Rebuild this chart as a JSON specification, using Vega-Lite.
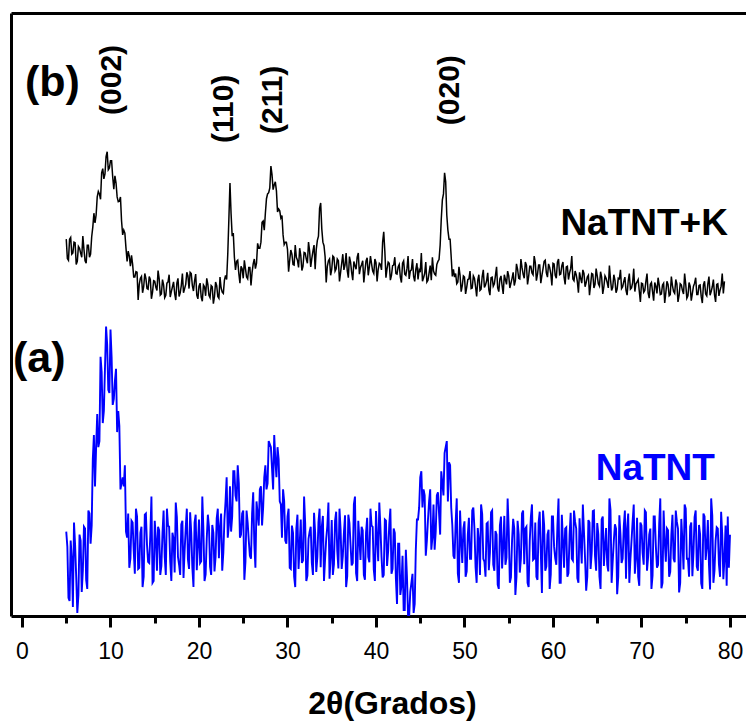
{
"$schema": "https://vega.github.io/schema/vega-lite/v6.json",
"width": 735, "height": 603,
"autosize": "none",
"padding": {"left": 11, "top": 13, "right": 0, "bottom": 107},
"background": "white",
"config": {"view": {"stroke": null}},
"datasets": {
"xrd": [
{"x":5,"a":14.0,"b":62.5},{"x":5.25,"a":3.0,"b":59.0},{"x":5.5,"a":12.5,"b":62.8},{"x":5.75,"a":1.5,"b":60.2},{"x":6,"a":11.8,"b":61.9},{"x":6.25,"a":0.5,"b":58.8},{"x":6.5,"a":13.5,"b":61.0},{"x":6.75,"a":4.0,"b":59.5},{"x":7,"a":14.8,"b":60.8},{"x":7.25,"a":6.0,"b":58.5},{"x":7.5,"a":17.5,"b":61.5},{"x":7.75,"a":12.0,"b":60.0},
{"x":8,"a":26.0,"b":64.5},{"x":8.25,"a":21.5,"b":65.2},{"x":8.5,"a":33.5,"b":69.5},{"x":8.75,"a":29.0,"b":70.0},{"x":9,"a":40.5,"b":73.5},{"x":9.25,"a":34.0,"b":72.5},{"x":9.5,"a":48.0,"b":76.2},{"x":9.75,"a":37.5,"b":74.0},{"x":10,"a":47.5,"b":75.5},{"x":10.25,"a":35.0,"b":72.8},{"x":10.5,"a":39.0,"b":73.0},{"x":10.75,"a":30.5,"b":69.5},
{"x":11,"a":31.5,"b":68.8},{"x":11.25,"a":22.0,"b":65.5},{"x":11.5,"a":21.5,"b":64.0},{"x":11.75,"a":14.0,"b":61.0},{"x":12,"a":17.0,"b":60.5},{"x":12.25,"a":9.5,"b":58.0},{"x":12.5,"a":15.5,"b":58.3},{"x":12.75,"a":7.0,"b":56.2},{"x":13,"a":16.5,"b":57.0},{"x":13.25,"a":8.0,"b":55.0},{"x":13.5,"a":14.8,"b":56.3},{"x":13.75,"a":6.5,"b":54.6},
{"x":14,"a":17.0,"b":56.0},{"x":14.25,"a":9.0,"b":54.2},{"x":14.5,"a":13.5,"b":55.8},{"x":14.75,"a":5.5,"b":53.7},{"x":15,"a":15.8,"b":55.5},{"x":15.25,"a":7.5,"b":54.0},{"x":15.5,"a":14.2,"b":55.9},{"x":15.75,"a":8.3,"b":53.4},{"x":16,"a":17.5,"b":54.9},{"x":16.25,"a":6.8,"b":53.2},{"x":16.5,"a":15.0,"b":55.4},{"x":16.75,"a":9.0,"b":52.9},
{"x":17,"a":13.8,"b":54.6},{"x":17.25,"a":7.2,"b":53.5},{"x":17.5,"a":16.4,"b":55.2},{"x":17.75,"a":8.5,"b":53.0},{"x":18,"a":15.2,"b":54.8},{"x":18.25,"a":6.3,"b":53.6},{"x":18.5,"a":14.6,"b":55.0},{"x":18.75,"a":9.4,"b":56.4},{"x":19,"a":17.2,"b":57.0},{"x":19.25,"a":8.0,"b":54.8},{"x":19.5,"a":15.5,"b":55.6},{"x":19.75,"a":7.6,"b":53.2},
{"x":20,"a":16.0,"b":54.7},{"x":20.25,"a":9.1,"b":52.9},{"x":20.5,"a":14.3,"b":54.9},{"x":20.75,"a":6.9,"b":53.1},{"x":21,"a":16.8,"b":55.0},{"x":21.25,"a":8.2,"b":52.8},{"x":21.5,"a":15.1,"b":54.6},{"x":21.75,"a":7.4,"b":53.0},{"x":22,"a":16.2,"b":54.8},{"x":22.25,"a":9.6,"b":52.7},{"x":22.5,"a":17.0,"b":54.4},{"x":22.75,"a":10.5,"b":53.5},
{"x":23,"a":19.0,"b":56.5},{"x":23.25,"a":13.0,"b":60.0},{"x":23.5,"a":21.5,"b":71.8},{"x":23.75,"a":16.5,"b":63.0},{"x":24,"a":24.0,"b":59.5},{"x":24.25,"a":19.0,"b":58.8},{"x":24.5,"a":22.0,"b":56.8},{"x":24.75,"a":13.5,"b":58.0},{"x":25,"a":17.5,"b":56.0},{"x":25.25,"a":9.0,"b":57.6},{"x":25.5,"a":15.5,"b":55.9},{"x":25.75,"a":10.0,"b":57.8},
{"x":26,"a":17.0,"b":57.0},{"x":26.25,"a":12.0,"b":59.2},{"x":26.5,"a":19.0,"b":58.5},{"x":26.75,"a":15.0,"b":61.0},{"x":27,"a":21.5,"b":62.0},{"x":27.25,"a":18.0,"b":65.5},{"x":27.5,"a":25.0,"b":66.8},{"x":27.75,"a":22.0,"b":70.0},{"x":28,"a":28.5,"b":71.0},{"x":28.25,"a":24.5,"b":73.2},{"x":28.5,"a":30.0,"b":71.5},{"x":28.75,"a":23.0,"b":70.5},
{"x":29,"a":26.0,"b":67.5},{"x":29.25,"a":18.5,"b":66.0},{"x":29.5,"a":21.0,"b":63.2},{"x":29.75,"a":12.5,"b":62.0},{"x":30,"a":16.5,"b":60.8},{"x":30.25,"a":8.0,"b":59.0},{"x":30.5,"a":15.0,"b":60.0},{"x":30.75,"a":6.5,"b":58.2},{"x":31,"a":14.5,"b":59.5},{"x":31.25,"a":7.8,"b":57.8},{"x":31.5,"a":16.0,"b":59.8},{"x":31.75,"a":9.2,"b":58.0},
{"x":32,"a":15.3,"b":60.2},{"x":32.25,"a":6.7,"b":58.5},{"x":32.5,"a":14.0,"b":60.5},{"x":32.75,"a":8.8,"b":59.3},{"x":33,"a":17.1,"b":61.5},{"x":33.25,"a":7.3,"b":60.8},{"x":33.5,"a":15.6,"b":63.0},{"x":33.75,"a":8.1,"b":68.5},{"x":34,"a":16.6,"b":62.0},{"x":34.25,"a":9.5,"b":59.6},{"x":34.5,"a":14.9,"b":58.0},{"x":34.75,"a":6.2,"b":59.2},
{"x":35,"a":15.9,"b":57.5},{"x":35.25,"a":8.6,"b":59.5},{"x":35.5,"a":17.3,"b":57.6},{"x":35.75,"a":7.9,"b":58.9},{"x":36,"a":14.4,"b":57.0},{"x":36.25,"a":9.9,"b":60.0},{"x":36.5,"a":16.7,"b":58.2},{"x":36.75,"a":6.6,"b":57.3},{"x":37,"a":15.4,"b":59.6},{"x":37.25,"a":8.4,"b":57.0},{"x":37.5,"a":18.5,"b":58.8},{"x":37.75,"a":7.1,"b":57.5},
{"x":38,"a":15.8,"b":60.2},{"x":38.25,"a":9.3,"b":57.8},{"x":38.5,"a":14.2,"b":58.9},{"x":38.75,"a":6.0,"b":57.2},{"x":39,"a":16.3,"b":59.4},{"x":39.25,"a":8.9,"b":57.9},{"x":39.5,"a":15.0,"b":58.4},{"x":39.75,"a":7.7,"b":56.8},{"x":40,"a":17.4,"b":58.6},{"x":40.25,"a":9.1,"b":57.5},{"x":40.5,"a":14.7,"b":58.3},{"x":40.75,"a":6.4,"b":62.0},
{"x":41,"a":16.0,"b":60.5},{"x":41.25,"a":8.3,"b":57.6},{"x":41.5,"a":15.2,"b":58.5},{"x":41.75,"a":7.0,"b":56.5},{"x":42,"a":14.5,"b":58.2},{"x":42.25,"a":6.1,"b":56.8},{"x":42.5,"a":12.0,"b":57.9},{"x":42.75,"a":3.5,"b":56.2},{"x":43,"a":10.0,"b":58.5},{"x":43.25,"a":1.0,"b":56.7},{"x":43.5,"a":6.5,"b":57.6},{"x":43.75,"a":0.0,"b":55.9},
{"x":44,"a":5.5,"b":57.4},{"x":44.25,"a":0.5,"b":56.3},{"x":44.5,"a":11.0,"b":57.5},{"x":44.75,"a":16.0,"b":55.8},{"x":45,"a":23.0,"b":57.0},{"x":45.25,"a":18.0,"b":55.5},{"x":45.5,"a":20.0,"b":56.8},{"x":45.75,"a":12.5,"b":55.4},{"x":46,"a":19.0,"b":56.9},{"x":46.25,"a":11.0,"b":55.7},{"x":46.5,"a":18.5,"b":57.2},{"x":46.75,"a":14.0,"b":56.5},
{"x":47,"a":20.5,"b":58.8},{"x":47.25,"a":13.5,"b":61.5},{"x":47.5,"a":22.0,"b":69.0},{"x":47.75,"a":27.0,"b":73.5},{"x":48,"a":29.0,"b":66.5},{"x":48.25,"a":25.5,"b":62.5},{"x":48.5,"a":18.0,"b":59.5},{"x":48.75,"a":10.0,"b":57.5},{"x":49,"a":15.5,"b":56.8},{"x":49.25,"a":7.0,"b":55.4},{"x":49.5,"a":17.5,"b":56.5},{"x":49.75,"a":8.8,"b":54.8},
{"x":50,"a":15.7,"b":56.2},{"x":50.25,"a":7.4,"b":54.5},{"x":50.5,"a":16.3,"b":55.9},{"x":50.75,"a":9.5,"b":54.3},{"x":51,"a":18.0,"b":56.4},{"x":51.25,"a":8.1,"b":54.6},{"x":51.5,"a":14.6,"b":55.7},{"x":51.75,"a":6.8,"b":54.0},{"x":52,"a":16.9,"b":56.3},{"x":52.25,"a":9.0,"b":54.5},{"x":52.5,"a":15.3,"b":55.6},{"x":52.75,"a":7.6,"b":54.1},
{"x":53,"a":17.2,"b":56.1},{"x":53.25,"a":8.5,"b":54.7},{"x":53.5,"a":14.1,"b":56.5},{"x":53.75,"a":5.2,"b":54.4},{"x":54,"a":15.0,"b":55.9},{"x":54.25,"a":7.9,"b":54.8},{"x":54.5,"a":16.6,"b":56.6},{"x":54.75,"a":9.7,"b":55.0},{"x":55,"a":14.4,"b":56.4},{"x":55.25,"a":6.4,"b":55.2},{"x":55.5,"a":16.1,"b":57.0},{"x":55.75,"a":3.5,"b":55.6},
{"x":56,"a":15.8,"b":57.5},{"x":56.25,"a":7.2,"b":55.9},{"x":56.5,"a":17.0,"b":57.8},{"x":56.75,"a":8.6,"b":56.0},{"x":57,"a":14.8,"b":58.2},{"x":57.25,"a":4.8,"b":56.3},{"x":57.5,"a":16.4,"b":58.0},{"x":57.75,"a":9.3,"b":56.6},{"x":58,"a":15.5,"b":58.6},{"x":58.25,"a":6.0,"b":56.7},{"x":58.5,"a":17.3,"b":58.2},{"x":58.75,"a":3.8,"b":56.5},
{"x":59,"a":15.1,"b":58.8},{"x":59.25,"a":8.2,"b":56.9},{"x":59.5,"a":14.3,"b":58.4},{"x":59.75,"a":6.9,"b":56.8},{"x":60,"a":16.5,"b":58.5},{"x":60.25,"a":9.6,"b":56.5},{"x":60.5,"a":15.0,"b":58.7},{"x":60.75,"a":5.5,"b":56.6},{"x":61,"a":16.8,"b":58.1},{"x":61.25,"a":8.0,"b":56.2},{"x":61.5,"a":14.7,"b":57.9},{"x":61.75,"a":7.1,"b":55.8},
{"x":62,"a":17.1,"b":57.6},{"x":62.25,"a":9.2,"b":55.9},{"x":62.5,"a":15.6,"b":57.2},{"x":62.75,"a":6.3,"b":55.5},{"x":63,"a":16.2,"b":57.0},{"x":63.25,"a":8.7,"b":55.2},{"x":63.5,"a":14.0,"b":56.8},{"x":63.75,"a":4.2,"b":55.3},{"x":64,"a":15.9,"b":56.5},{"x":64.25,"a":7.8,"b":54.9},{"x":64.5,"a":17.4,"b":56.7},{"x":64.75,"a":9.9,"b":55.0},
{"x":65,"a":15.4,"b":56.4},{"x":65.25,"a":6.5,"b":54.7},{"x":65.5,"a":16.0,"b":56.2},{"x":65.75,"a":8.3,"b":54.6},{"x":66,"a":14.6,"b":56.0},{"x":66.25,"a":7.4,"b":54.4},{"x":66.5,"a":17.6,"b":55.8},{"x":66.75,"a":9.1,"b":54.5},{"x":67,"a":15.2,"b":55.7},{"x":67.25,"a":3.6,"b":54.2},{"x":67.5,"a":16.7,"b":55.9},{"x":67.75,"a":8.8,"b":54.3},
{"x":68,"a":14.9,"b":55.5},{"x":68.25,"a":6.2,"b":54.0},{"x":68.5,"a":17.0,"b":55.6},{"x":68.75,"a":9.4,"b":54.2},{"x":69,"a":15.7,"b":55.3},{"x":69.25,"a":7.0,"b":53.8},{"x":69.5,"a":16.3,"b":55.4},{"x":69.75,"a":5.0,"b":53.9},{"x":70,"a":15.0,"b":55.2},{"x":70.25,"a":8.5,"b":53.7},{"x":70.5,"a":17.2,"b":55.5},{"x":70.75,"a":9.8,"b":53.6},
{"x":71,"a":14.5,"b":55.0},{"x":71.25,"a":6.7,"b":53.8},{"x":71.5,"a":16.5,"b":55.3},{"x":71.75,"a":8.0,"b":53.5},{"x":72,"a":15.3,"b":54.9},{"x":72.25,"a":4.6,"b":53.4},{"x":72.5,"a":17.5,"b":55.2},{"x":72.75,"a":9.0,"b":53.6},{"x":73,"a":14.2,"b":55.0},{"x":73.25,"a":7.3,"b":53.3},{"x":73.5,"a":16.8,"b":54.8},{"x":73.75,"a":8.9,"b":53.5},
{"x":74,"a":15.6,"b":55.1},{"x":74.25,"a":3.9,"b":53.2},{"x":74.5,"a":16.1,"b":54.9},{"x":74.75,"a":7.7,"b":53.4},{"x":75,"a":17.8,"b":55.0},{"x":75.25,"a":9.5,"b":53.1},{"x":75.5,"a":14.8,"b":54.7},{"x":75.75,"a":6.6,"b":53.5},{"x":76,"a":16.4,"b":55.2},{"x":76.25,"a":8.2,"b":53.3},{"x":76.5,"a":15.1,"b":54.8},{"x":76.75,"a":5.4,"b":53.0},
{"x":77,"a":17.0,"b":54.9},{"x":77.25,"a":9.3,"b":53.4},{"x":77.5,"a":15.9,"b":55.1},{"x":77.75,"a":4.4,"b":53.2},{"x":78,"a":16.6,"b":54.6},{"x":78.25,"a":7.5,"b":53.3},{"x":78.5,"a":14.7,"b":55.0},{"x":78.75,"a":8.6,"b":53.1},{"x":79,"a":17.3,"b":54.7},{"x":79.25,"a":6.1,"b":53.5},{"x":79.5,"a":15.0},
{"x":5.125,"a":11.5,"b":59.3},{"x":5.375,"a":2.5,"b":62.5},{"x":5.625,"a":9.5,"b":60.0},{"x":5.875,"a":15.5,"b":62.0},{"x":6.125,"a":6.5,"b":58.3},{"x":6.375,"a":3.5,"b":61.3},{"x":6.625,"a":12.5,"b":60.2},{"x":6.875,"a":7.5,"b":63.0},{"x":7.125,"a":14.5,"b":58.9},{"x":7.375,"a":4.5,"b":61.5},
{"x":7.625,"a":17,"b":59.5},{"x":7.875,"a":15,"b":62.9},{"x":8.125,"a":30,"b":66.8},{"x":8.375,"a":28,"b":66.5},{"x":8.625,"a":28,"b":70.4},{"x":8.875,"a":43,"b":69.1},{"x":9.125,"a":32,"b":74.2},{"x":9.375,"a":41,"b":73.3},{"x":9.625,"a":45,"b":77.0},{"x":9.875,"a":37,"b":74.3},
{"x":10.125,"a":43,"b":75.5},{"x":10.375,"a":36,"b":70.8},{"x":10.625,"a":41,"b":71.8},{"x":10.875,"a":34,"b":68.7},{"x":11.125,"a":21,"b":69.5},{"x":11.375,"a":23,"b":63.2},{"x":11.625,"a":25,"b":63.5},{"x":11.875,"a":13,"b":58.8},{"x":12.125,"a":8,"b":59.7},{"x":12.375,"a":15.8,"b":59.8},
{"x":12.625,"a":10.8,"b":56.2},{"x":12.875,"a":17.8,"b":57.1},{"x":13.125,"a":7.8,"b":52.4},{"x":13.375,"a":13.8,"b":56.0},{"x":13.625,"a":4.8,"b":53.6},{"x":13.875,"a":16.8,"b":56.8},{"x":14.125,"a":11.8,"b":54.3},{"x":14.375,"a":8.8,"b":56.3},{"x":14.625,"a":19.8,"b":52.6},{"x":14.875,"a":5.8,"b":55.6},
{"x":15.125,"a":12.8,"b":54.5},{"x":15.375,"a":14.8,"b":57.3},{"x":15.625,"a":6.8,"b":53.2},{"x":15.875,"a":13.8,"b":55.8},{"x":16.125,"a":9.8,"b":52.8},{"x":16.375,"a":17.8,"b":55.2},{"x":16.625,"a":14.8,"b":56.6},{"x":16.875,"a":5.8,"b":53.8},{"x":17.125,"a":12.8,"b":55.4},{"x":17.375,"a":18.8,"b":52.4},
{"x":17.625,"a":9.8,"b":56.0},{"x":17.875,"a":6.8,"b":53.6},{"x":18.125,"a":15.8,"b":56.8},{"x":18.375,"a":10.8,"b":54.3},{"x":18.625,"a":17.8,"b":57.0},{"x":18.875,"a":7.8,"b":54.3},{"x":19.125,"a":13.8,"b":56.8},{"x":19.375,"a":4.8,"b":53.9},{"x":19.625,"a":16.8,"b":56.7},{"x":19.875,"a":11.8,"b":52.6},
{"x":20.125,"a":8.8,"b":55.2},{"x":20.375,"a":19.8,"b":52.2},{"x":20.625,"a":5.8,"b":54.6},{"x":20.875,"a":12.8,"b":56.0},{"x":21.125,"a":14.8,"b":53.2},{"x":21.375,"a":6.8,"b":54.8},{"x":21.625,"a":13.8,"b":51.8},{"x":21.875,"a":9.8,"b":55.4},{"x":22.125,"a":17.8,"b":53.0},{"x":22.375,"a":14.8,"b":56.2},
{"x":22.625,"a":7.5,"b":53.7},{"x":22.875,"a":16,"b":55.7},{"x":23.125,"a":23,"b":55.8},{"x":23.375,"a":15,"b":65.8},{"x":23.625,"a":14,"b":66.7},{"x":23.875,"a":24,"b":63.5},{"x":24.125,"a":20,"b":57.4},{"x":24.375,"a":25,"b":59.0},{"x":24.625,"a":13,"b":55.2},{"x":24.875,"a":17,"b":57.6},
{"x":25.125,"a":6,"b":59.0},{"x":25.375,"a":17.5,"b":56.2},{"x":25.625,"a":12.5,"b":57.8},{"x":25.875,"a":9.5,"b":54.8},{"x":26.125,"a":20.5,"b":58.4},{"x":26.375,"a":8,"b":57.6},{"x":26.625,"a":17,"b":61.8},{"x":26.875,"a":21,"b":61.0},{"x":27.125,"a":15,"b":65.3},{"x":27.375,"a":23,"b":64.0},
{"x":27.625,"a":21,"b":69.2},{"x":27.875,"a":29,"b":70.2},{"x":28.125,"a":28,"b":74.6},{"x":28.375,"a":21,"b":70.7},{"x":28.625,"a":26,"b":72.0},{"x":28.875,"a":28,"b":67.0},{"x":29.125,"a":19,"b":67.2},{"x":29.375,"a":13,"b":66.4},{"x":29.625,"a":19,"b":61.6},{"x":29.875,"a":12,"b":62.0},
{"x":30.125,"a":17.8,"b":57.1},{"x":30.375,"a":7.8,"b":60.7},{"x":30.625,"a":13.8,"b":58.3},{"x":30.875,"a":4.8,"b":61.5},{"x":31.125,"a":16.8,"b":59.0},{"x":31.375,"a":11.8,"b":61.0},{"x":31.625,"a":8.8,"b":57.3},{"x":31.875,"a":19.8,"b":60.3},{"x":32.125,"a":5.8,"b":59.2},{"x":32.375,"a":12.8,"b":62.0},
{"x":32.625,"a":14.8,"b":57.9},{"x":32.875,"a":6.8,"b":60.5},{"x":33.125,"a":13.8,"b":57.5},{"x":33.375,"a":9.8,"b":62.3},{"x":33.625,"a":17.8,"b":67.6},{"x":33.875,"a":14.8,"b":64.2},{"x":34.125,"a":5.8,"b":61.4},{"x":34.375,"a":12.8,"b":55.3},{"x":34.625,"a":18.8,"b":58.9},{"x":34.875,"a":9.8,"b":56.5},
{"x":35.125,"a":6.8,"b":59.7},{"x":35.375,"a":15.8,"b":57.2},{"x":35.625,"a":10.8,"b":59.2},{"x":35.875,"a":17.8,"b":55.5},{"x":36.125,"a":7.8,"b":58.5},{"x":36.375,"a":13.8,"b":57.4},{"x":36.625,"a":4.8,"b":60.2},{"x":36.875,"a":16.8,"b":56.1},{"x":37.125,"a":11.8,"b":58.7},{"x":37.375,"a":8.8,"b":55.7},
{"x":37.625,"a":19.8,"b":58.1},{"x":37.875,"a":5.8,"b":59.5},{"x":38.125,"a":12.8,"b":56.7},{"x":38.375,"a":14.8,"b":58.3},{"x":38.625,"a":6.8,"b":55.3},{"x":38.875,"a":13.8,"b":58.9},{"x":39.125,"a":9.8,"b":56.5},{"x":39.375,"a":17.8,"b":59.7},{"x":39.625,"a":14.8,"b":57.2},{"x":39.875,"a":5.8,"b":59.2},
{"x":40.125,"a":12.8,"b":55.5},{"x":40.375,"a":18.8,"b":58.5},{"x":40.625,"a":9.8,"b":57.4},{"x":40.875,"a":6.8,"b":63.7},{"x":41.125,"a":15.8,"b":56.1},{"x":41.375,"a":10.8,"b":58.7},{"x":41.625,"a":17.8,"b":55.7},{"x":41.875,"a":7.8,"b":58.1},{"x":42.125,"a":13.8,"b":59.5},{"x":42.375,"a":2,"b":56.7},
{"x":42.625,"a":12,"b":58.3},{"x":42.875,"a":5,"b":55.3},{"x":43.125,"a":1,"b":58.9},{"x":43.375,"a":11,"b":56.5},{"x":43.625,"a":0,"b":59.7},{"x":43.875,"a":4,"b":57.2},{"x":44.125,"a":7,"b":59.2},{"x":44.375,"a":2,"b":55.5},{"x":44.625,"a":16,"b":58.5},{"x":44.875,"a":18,"b":57.4},
{"x":45.125,"a":24,"b":60.2},{"x":45.375,"a":21,"b":56.1},{"x":45.625,"a":10,"b":58.7},{"x":45.875,"a":16,"b":55.7},{"x":46.125,"a":21,"b":58.1},{"x":46.375,"a":13,"b":59.5},{"x":46.625,"a":11,"b":56.7},{"x":46.875,"a":20,"b":58.3},{"x":47.125,"a":17,"b":59.1},{"x":47.375,"a":24,"b":65.8},
{"x":47.625,"a":20,"b":70.0},{"x":47.875,"a":28,"b":72.0},{"x":48.125,"a":19,"b":64.0},{"x":48.375,"a":25,"b":62.5},{"x":48.625,"a":15,"b":56.3},{"x":48.875,"a":9.5,"b":56.2},{"x":49.125,"a":19.5,"b":55.1},{"x":49.375,"a":5.5,"b":57.9},{"x":49.625,"a":12.5,"b":53.8},{"x":49.875,"a":14.5,"b":56.4},
{"x":50.125,"a":6.5,"b":53.4},{"x":50.375,"a":13.5,"b":55.8},{"x":50.625,"a":9.5,"b":57.2},{"x":50.875,"a":17.5,"b":54.4},{"x":51.125,"a":14.5,"b":56.0},{"x":51.375,"a":5.5,"b":53.0},{"x":51.625,"a":12.5,"b":56.6},{"x":51.875,"a":18.5,"b":54.2},{"x":52.125,"a":9.5,"b":57.4},{"x":52.375,"a":6.5,"b":54.9},
{"x":52.625,"a":15.5,"b":56.9},{"x":52.875,"a":10.5,"b":53.2},{"x":53.125,"a":17.5,"b":56.2},{"x":53.375,"a":7.5,"b":55.1},{"x":53.625,"a":13.5,"b":57.9},{"x":53.875,"a":4.5,"b":53.8},{"x":54.125,"a":16.5,"b":56.4},{"x":54.375,"a":11.5,"b":53.4},{"x":54.625,"a":8.5,"b":55.8},{"x":54.875,"a":19.5,"b":57.2},
{"x":55.125,"a":5.5,"b":54.4},{"x":55.375,"a":12.5,"b":56.0},{"x":55.625,"a":14.5,"b":54.8},{"x":55.875,"a":6.5,"b":58.4},{"x":56.125,"a":13.5,"b":56.0},{"x":56.375,"a":9.5,"b":59.2},{"x":56.625,"a":17.5,"b":56.7},{"x":56.875,"a":14.5,"b":58.7},{"x":57.125,"a":5.5,"b":55.0},{"x":57.375,"a":12.5,"b":58.0},
{"x":57.625,"a":18.5,"b":56.9},{"x":57.875,"a":9.5,"b":59.7},{"x":58.125,"a":6.5,"b":55.6},{"x":58.375,"a":15.5,"b":58.2},{"x":58.625,"a":10.5,"b":55.2},{"x":58.875,"a":17.5,"b":57.6},{"x":59.125,"a":7.5,"b":59.0},{"x":59.375,"a":13.5,"b":56.2},{"x":59.625,"a":4.5,"b":57.8},{"x":59.875,"a":16.5,"b":54.8},
{"x":60.125,"a":11.5,"b":58.4},{"x":60.375,"a":8.5,"b":56.0},{"x":60.625,"a":19.5,"b":59.2},{"x":60.875,"a":5.5,"b":56.7},{"x":61.125,"a":12.5,"b":58.7},{"x":61.375,"a":14.5,"b":55.0},{"x":61.625,"a":6.5,"b":58.0},{"x":61.875,"a":13.5,"b":56.9},{"x":62.125,"a":9.5,"b":59.7},{"x":62.375,"a":17.5,"b":55.6},
{"x":62.625,"a":14.5,"b":56.6},{"x":62.875,"a":5.5,"b":53.6},{"x":63.125,"a":12.5,"b":56.0},{"x":63.375,"a":18.5,"b":57.4},{"x":63.625,"a":9.5,"b":54.6},{"x":63.875,"a":6.5,"b":56.2},{"x":64.125,"a":15.5,"b":53.2},{"x":64.375,"a":10.5,"b":56.8},{"x":64.625,"a":17.5,"b":54.4},{"x":64.875,"a":7.5,"b":57.6},
{"x":65.125,"a":13.5,"b":55.1},{"x":65.375,"a":4.5,"b":57.1},{"x":65.625,"a":16.5,"b":53.4},{"x":65.875,"a":11.5,"b":56.4},{"x":66.125,"a":8.5,"b":55.3},{"x":66.375,"a":19.5,"b":58.1},{"x":66.625,"a":5.5,"b":54.0},{"x":66.875,"a":12.5,"b":56.6},{"x":67.125,"a":14.5,"b":53.6},{"x":67.375,"a":6.5,"b":56.0},
{"x":67.625,"a":13.5,"b":57.4},{"x":67.875,"a":9.5,"b":54.6},{"x":68.125,"a":17.5,"b":56.2},{"x":68.375,"a":14.5,"b":53.2},{"x":68.625,"a":5.5,"b":56.8},{"x":68.875,"a":12.5,"b":54.4},{"x":69.125,"a":18.5,"b":57.6},{"x":69.375,"a":9.5,"b":55.1},{"x":69.625,"a":6.5,"b":55.8},{"x":69.875,"a":15.5,"b":52.1},
{"x":70.125,"a":10.5,"b":55.1},{"x":70.375,"a":17.5,"b":54.0},{"x":70.625,"a":7.5,"b":56.8},{"x":70.875,"a":13.5,"b":52.7},{"x":71.125,"a":4.5,"b":55.3},{"x":71.375,"a":16.5,"b":52.3},{"x":71.625,"a":11.5,"b":54.7},{"x":71.875,"a":8.5,"b":56.1},{"x":72.125,"a":19.5,"b":53.3},{"x":72.375,"a":5.5,"b":54.9},
{"x":72.625,"a":12.5,"b":51.9},{"x":72.875,"a":14.5,"b":55.5},{"x":73.125,"a":6.5,"b":53.1},{"x":73.375,"a":13.5,"b":56.3},{"x":73.625,"a":9.5,"b":53.8},{"x":73.875,"a":17.5,"b":55.8},{"x":74.125,"a":14.5,"b":52.1},{"x":74.375,"a":5.5,"b":55.1},{"x":74.625,"a":12.5,"b":54.0},{"x":74.875,"a":18.5,"b":56.8},
{"x":75.125,"a":9.5,"b":52.7},{"x":75.375,"a":6.5,"b":55.3},{"x":75.625,"a":15.5,"b":52.3},{"x":75.875,"a":10.5,"b":54.7},{"x":76.125,"a":17.5,"b":56.1},{"x":76.375,"a":7.5,"b":53.3},{"x":76.625,"a":13.5,"b":54.9},{"x":76.875,"a":4.5,"b":51.9},{"x":77.125,"a":16.5,"b":55.5},{"x":77.375,"a":11.5,"b":53.1},
{"x":77.625,"a":8.5,"b":56.3},{"x":77.875,"a":19.5,"b":53.8},{"x":78.125,"a":5.5,"b":55.8},{"x":78.375,"a":12.5,"b":52.1},{"x":78.625,"a":14.5,"b":55.1},{"x":78.875,"a":6.5,"b":54.0},{"x":79.125,"a":13.5,"b":56.8},{"x":79.375,"a":9.5,"b":55.5},
{"x":79.625,"a":5.0},{"x":79.75,"a":16.5},{"x":79.875,"a":8.0},{"x":80,"a":13.5}
],
"panel": [{"x":0.34,"y":86.2,"t":"(b)"},{"x":-1.02,"y":40.5,"t":"(a)"}],
"hkl": [{"x":10.2,"y":88.9,"t":"(002)"},{"x":22.8,"y":84.1,"t":"(110)"},{"x":28.4,"y":85.6,"t":"(211)"},{"x":48.4,"y":87.2,"t":"(020)"}],
"names": [{"x":79.77,"y":63.2,"t":"NaTNT+K","s":"b"},{"x":78.3,"y":22.55,"t":"NaTNT","s":"a"}]
},
"resolve": {"axis": {"x": "independent", "y": "shared"}},
"layer": [
{
"data": {"name": "xrd"},
"transform": [{"fold": ["a", "b"], "as": ["s", "i"]}, {"filter": "datum.s === 'a'"}],
"mark": {"type": "line", "strokeWidth": 1.9, "clip": true},
"encoding": {
"x": {"field": "x", "type": "quantitative",
"scale": {"domain": [-1.243, 81.81], "nice": false, "zero": false},
"axis": {"orient": "bottom", "values": [0,10,20,30,40,50,60,70,80], "format": "d", "grid": false,
"domainColor": "black", "domainWidth": 3, "tickColor": "black", "tickWidth": 3, "tickSize": 11,
"labelFont": "Liberation Sans", "labelFontSize": 23, "labelColor": "black", "labelBaseline": "alphabetic", "labelPadding": 31,
"title": "2θ(Grados)", "titleFont": "Liberation Sans", "titleFontWeight": "bold", "titleFontSize": 32, "titleColor": "black",
"titleBaseline": "alphabetic", "titleY": 97, "titleX": 381, "titleAlign": "center"}},
"y": {"field": "i", "type": "quantitative", "title": null,
"scale": {"domain": [0, 100], "nice": false, "zero": false},
"axis": {"orient": "left", "title": null, "labels": false, "ticks": false, "grid": false, "domainColor": "black", "domainWidth": 3}},
"color": {"field": "s", "type": "nominal", "scale": {"domain": ["a", "b"], "range": ["#0000ff", "#000000"]}, "legend": null}
}
},
{
"data": {"name": "xrd"},
"transform": [{"fold": ["a", "b"], "as": ["s", "i"]}, {"filter": "datum.s === 'b'"}],
"mark": {"type": "line", "strokeWidth": 1.5, "clip": true},
"encoding": {
"x": {"field": "x", "type": "quantitative", "axis": null},
"y": {"field": "i", "type": "quantitative", "title": null,
"axis": {"orient": "left", "title": null, "labels": false, "ticks": false, "grid": false, "domainColor": "black", "domainWidth": 3}},
"color": {"field": "s", "type": "nominal", "legend": null}
}
},
{
"data": {"name": "panel"},
"mark": {"type": "text", "font": "Liberation Sans", "fontWeight": "bold", "fontSize": 43, "align": "left", "baseline": "alphabetic", "color": "black"},
"encoding": {
"x": {"field": "x", "type": "quantitative",
"axis": {"orient": "bottom", "values": [5,15,25,35,45,55,65,75], "labels": false, "domain": false, "grid": false, "title": null,
"tickColor": "black", "tickWidth": 3, "tickSize": 7}},
"y": {"field": "y", "type": "quantitative", "title": null,
"axis": {"orient": "left", "title": null, "labels": false, "ticks": false, "grid": false, "domainColor": "black", "domainWidth": 3}},
"text": {"field": "t"}
}
},
{
"data": {"name": "hkl"},
"mark": {"type": "text", "font": "Liberation Sans", "fontWeight": "bold", "fontSize": 30, "angle": 270, "align": "center", "baseline": "middle", "color": "black"},
"encoding": {
"x": {"field": "x", "type": "quantitative",
"axis": {"orient": "top", "labels": false, "ticks": false, "grid": false, "title": null, "domainColor": "black", "domainWidth": 3}},
"y": {"field": "y", "type": "quantitative", "title": null,
"axis": {"orient": "left", "title": null, "labels": false, "ticks": false, "grid": false, "domainColor": "black", "domainWidth": 3}},
"text": {"field": "t"}
}
},
{
"data": {"name": "names"},
"mark": {"type": "text", "font": "Liberation Sans", "fontWeight": "bold", "fontSize": 37, "align": "right", "baseline": "alphabetic"},
"encoding": {
"x": {"field": "x", "type": "quantitative", "axis": null},
"y": {"field": "y", "type": "quantitative", "title": null,
"axis": {"orient": "left", "title": null, "labels": false, "ticks": false, "grid": false, "domainColor": "black", "domainWidth": 3}},
"text": {"field": "t"},
"color": {"field": "s", "type": "nominal", "legend": null}
}
}
]
}
